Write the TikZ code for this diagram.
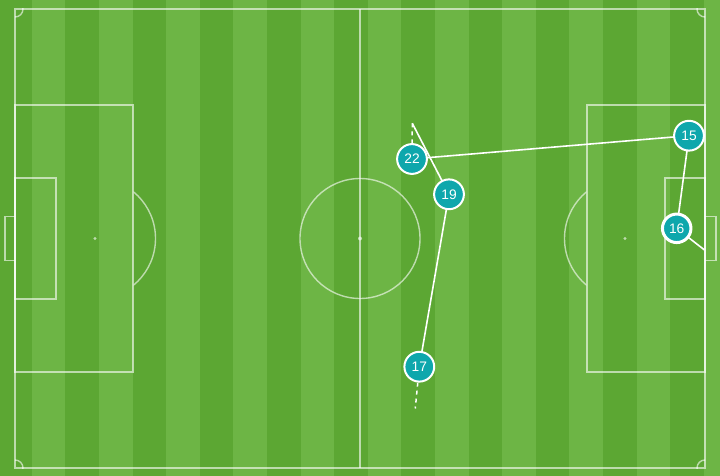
\documentclass[tikz,border=0pt]{standalone}
\usepackage{fontspec}
\setmainfont{Liberation Sans}
\definecolor{darkg}{RGB}{92,167,51}
\definecolor{lightg}{RGB}{109,181,69}
\definecolor{tealp}{RGB}{14,167,172}
\pgfdeclarelayer{pitch}
\pgfdeclarelayer{lines}
\pgfsetlayers{pitch,lines,main}
\begin{document}
\begin{tikzpicture}[x=1pt,y=-1pt,
  pitchline/.style={draw=white,draw opacity=0.6,line width=1.4pt},
  spot/.style={fill=white,fill opacity=0.6},
  pass/.style={draw=white,line width=1.6pt},
  carry/.style={draw=white,line width=1.5pt,dash pattern=on 4pt off 4pt},
  player/.style={circle,fill=tealp,draw=white,line width=2pt,minimum size=29.8pt,inner sep=0pt,text=white,font=\fontsize{13.8}{16}\selectfont},
  keyplayer/.style={player,line width=3pt,minimum size=28.5pt}]
\useasboundingbox (0,0) rectangle (720,476);
\begin{pgfonlayer}{pitch}
  \fill[lightg] (0,0) rectangle (720,476);
  \foreach \k in {0,2,...,20} \fill[darkg] ({-1.9+33.6*\k},0) rectangle ({31.7+33.6*\k},476);
  % outline and halfway
  \draw[pitchline] (15,9) rectangle (705,468);
  \draw[pitchline] (360,9) -- (360,468);
  \draw[pitchline] (360,238.5) circle (60pt);
  \fill[spot] (360,238.5) circle (2pt);
  % left end
  \draw[pitchline] (15,105) rectangle (133,372);
  \draw[pitchline] (15,178) rectangle (56,299);
  \draw[pitchline] (15,216.7) -- (5,216.7) -- (5,260.7) -- (15,260.7);
  \fill[spot] (95,238.5) circle (1.6pt);
  \begin{scope}
    \clip (133.7,0) rectangle (200,476);
    \draw[pitchline] (95,238.5) circle (60.5pt);
  \end{scope}
  % right end
  \draw[pitchline] (587,105) rectangle (705,372);
  \draw[pitchline] (665,178) rectangle (705,299);
  \draw[pitchline] (705,216.7) -- (716,216.7) -- (716,260.7) -- (705,260.7);
  \fill[spot] (625,238.5) circle (1.6pt);
  \begin{scope}
    \clip (520,0) rectangle (586.3,476);
    \draw[pitchline] (625,238.5) circle (60.5pt);
  \end{scope}
  % corner arcs
  \begin{scope}
    \clip (15,9) rectangle (705,468);
    \draw[pitchline] (15,9) circle (8pt);
    \draw[pitchline] (705,9) circle (8pt);
    \draw[pitchline] (15,468) circle (8pt);
    \draw[pitchline] (705,468) circle (8pt);
  \end{scope}
\end{pgfonlayer}
% players
\node[player] (n22) at (412,159) {22};
\node[player] (n19) at (449,194.3) {19};
\node[player] (n15) at (689,135.7) {15};
\node[keyplayer] (n16) at (676.7,228.3) {16};
\node[player] (n17) at (419.3,366.7) {17};
\coordinate (c1) at (412.3,123.3);
\coordinate (c2) at (415.3,408.5);
\coordinate (c3) at (704.5,250);
\begin{pgfonlayer}{lines}
  \draw[carry] (c1) -- (n22.center);
  \draw[pass] (c1) -- (n19.center);
  \draw[pass] (n22.center) -- (n15.center);
  \draw[pass] (n19.center) -- (n17.center);
  \draw[carry] (n17.center) -- (c2);
  \draw[pass] (n15.center) -- (n16.center);
  \draw[pass] (n16.center) -- (c3);
\end{pgfonlayer}
\end{tikzpicture}
\end{document}
